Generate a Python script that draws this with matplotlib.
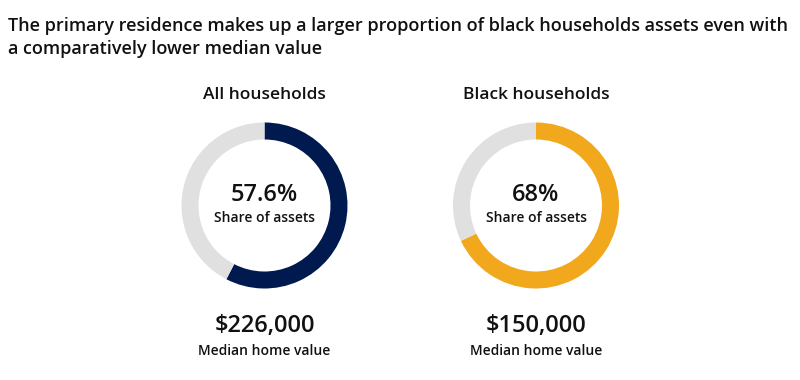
import matplotlib
matplotlib.use("Agg")
import matplotlib.pyplot as plt

plt.rcParams['font.family'] = ['Open Sans', 'DejaVu Sans']

# data
groups = ["All households", "Black households"]
share_of_assets = [57.6, 68.0]
share_labels = ["57.6%", "68%"]
median_home = ["$226,000", "$150,000"]
ring_colors = ["#001A4F", "#F2A81D"]
rest_color = "#E0E0E0"

title = ("The primary residence makes up a larger proportion of black households assets even with\n"
         "a comparatively lower median value")

W, H = 800, 380
fig = plt.figure(figsize=(8, 3.8), dpi=100)
ax = fig.add_axes([0, 0, 1, 1])

centers_x = [264.5, 536]
cy = H - 205.5
radius = 83
ring_w = 17

for i, g in enumerate(groups):
    cx = centers_x[i]
    ax.pie([share_of_assets[i], 100 - share_of_assets[i]],
           colors=[ring_colors[i], rest_color],
           startangle=90, counterclock=False,
           center=(cx, cy), radius=radius,
           wedgeprops=dict(width=ring_w, linewidth=0))
    ax.text(cx, H - 95, g, ha='center', va='center', fontsize=12.5,
            fontweight='semibold', color='#111111')
    ax.text(cx, H - 195, share_labels[i], ha='center', va='center',
            fontsize=17, fontweight='semibold', color='#111111')
    ax.text(cx, H - 218, "Share of assets", ha='center', va='center',
            fontsize=10, fontweight='semibold', color='#111111')
    ax.text(cx, H - 326, median_home[i], ha='center', va='center',
            fontsize=17, fontweight='semibold', color='#111111')
    ax.text(cx, H - 351, "Median home value", ha='center', va='center',
            fontsize=10, fontweight='semibold', color='#111111')

ax.text(8, H - 17, title, ha='left', va='top', fontsize=13,
        fontweight='semibold', color='#111111', linespacing=1.35)

ax.set_xlim(0, W)
ax.set_ylim(0, H)
ax.set_aspect('equal')
ax.axis('off')

fig.savefig("out.png", dpi=100)
